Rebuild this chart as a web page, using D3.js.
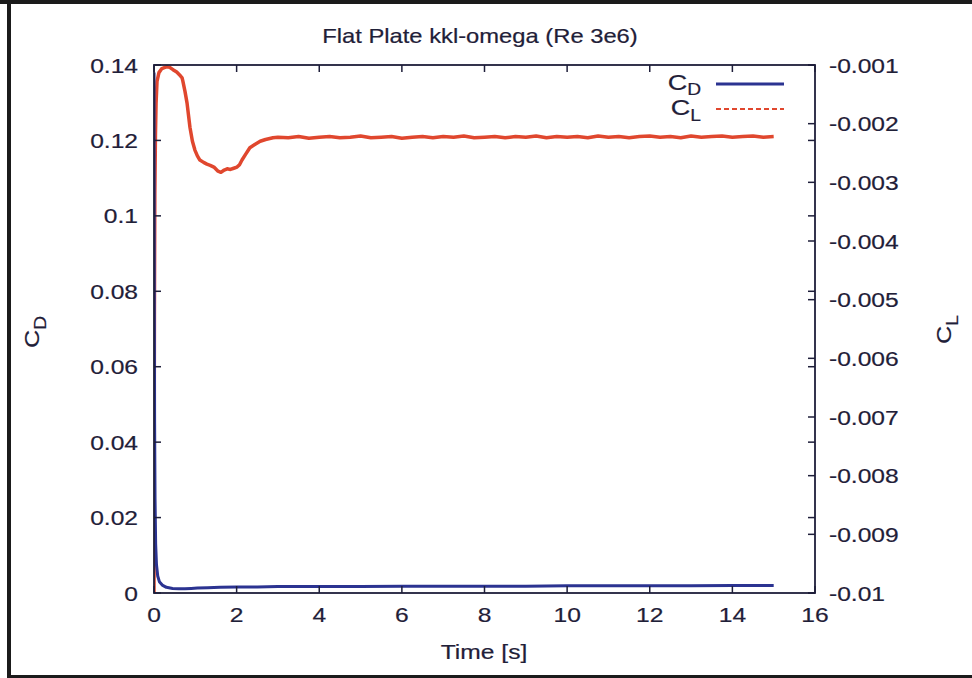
<!DOCTYPE html>
<html>
<head>
<meta charset="utf-8">
<script src="https://cdn.jsdelivr.net/npm/d3@7/dist/d3.min.js"></script>
<style>
  html, body { margin: 0; padding: 0; background: #ffffff; }
  svg { display: block; }
  text { font-family: "Liberation Sans", Arial, Helvetica, sans-serif; fill: #1f2038; stroke: #1f2038; stroke-width: 0.2px; }
</style>
</head>
<body>
<svg id="chart" width="972" height="678"></svg>
<script>
// ---------------- data ----------------
const chartTitle = "Flat Plate kkl-omega (Re 3e6)";
const xTicks = [0, 2, 4, 6, 8, 10, 12, 14, 16];
const yTicksCD = [0, 0.02, 0.04, 0.06, 0.08, 0.1, 0.12, 0.14];
const yTickLabelsCD = ["0", "0.02", "0.04", "0.06", "0.08", "0.1", "0.12", "0.14"];
const yTicksCL = [-0.01, -0.009, -0.008, -0.007, -0.006, -0.005, -0.004, -0.003, -0.002, -0.001];
const yTickLabelsCL = ["-0.01", "-0.009", "-0.008", "-0.007", "-0.006", "-0.005", "-0.004", "-0.003", "-0.002", "-0.001"];

const timeCD = [0, 0.004, 0.008, 0.015, 0.025, 0.04, 0.06, 0.09, 0.13, 0.2, 0.3, 0.45, 0.6, 0.75, 0.9, 1.05, 1.3, 1.6, 2, 2.5, 3, 4, 5, 6, 7, 8, 9, 10, 11, 12, 13, 14, 15];
const dragCoef = [0.138, 0.11, 0.075, 0.045, 0.025, 0.013, 0.0075, 0.0045, 0.003, 0.0021, 0.0015, 0.0012, 0.0011, 0.0011, 0.0012, 0.0013, 0.0014, 0.0015, 0.0016, 0.0016, 0.0017, 0.0017, 0.0017, 0.0018, 0.0018, 0.0018, 0.0018, 0.0019, 0.0019, 0.0019, 0.0019, 0.0020, 0.0020];

const timeCL = [0, 0.005, 0.01, 0.02, 0.035, 0.05, 0.073, 0.12, 0.19, 0.266, 0.315, 0.38, 0.46, 0.55, 0.62, 0.68, 0.70, 0.75, 0.80, 0.87, 0.93, 0.99, 1.05, 1.11, 1.2, 1.28, 1.36, 1.45, 1.55, 1.62, 1.7, 1.77, 1.85, 1.93, 2.01, 2.07, 2.13, 2.22, 2.32, 2.45, 2.57, 2.7, 2.88,
  3.0, 3.25, 3.5, 3.75, 4.0, 4.25, 4.5, 4.75, 5.0, 5.25, 5.5, 5.75, 6.0, 6.25, 6.5, 6.75, 7.0, 7.25, 7.5, 7.75, 8.0, 8.25, 8.5, 8.75, 9.0, 9.25, 9.5, 9.75, 10.0, 10.25, 10.5, 10.75, 11.0, 11.25, 11.5, 11.75, 12.0, 12.25, 12.5, 12.75, 13.0, 13.25, 13.5, 13.75, 14.0, 14.25, 14.5, 14.75, 15.0];
const liftCoef = [-0.0100, -0.0075, -0.0052, -0.0032, -0.0022, -0.00165, -0.00128, -0.00113, -0.00106, -0.00104, -0.00103, -0.00104, -0.00108, -0.00112, -0.00117, -0.00122, -0.00128, -0.00145, -0.00165, -0.00206, -0.00230, -0.00245, -0.00255, -0.00262, -0.00266, -0.00269, -0.00271, -0.00274, -0.00281, -0.00283, -0.00279, -0.00277, -0.00278, -0.00276, -0.00274, -0.00270, -0.00262, -0.00252, -0.00241, -0.00235, -0.00230, -0.00227, -0.00224,
  -0.00223, -0.00224, -0.00222, -0.00225, -0.00223, -0.00222, -0.00224, -0.00223, -0.00221, -0.00224, -0.00223, -0.00222, -0.00225, -0.00223, -0.00222, -0.00224, -0.00222, -0.00223, -0.00221, -0.00224, -0.00223, -0.00222, -0.00224, -0.00222, -0.00223, -0.00221, -0.00224, -0.00222, -0.00223, -0.00222, -0.00224, -0.00221, -0.00223, -0.00222, -0.00224, -0.00222, -0.00221, -0.00223, -0.00222, -0.00224, -0.00221, -0.00223, -0.00222, -0.00221, -0.00223, -0.00222, -0.00221, -0.00223, -0.00222];

// ---------------- layout ----------------
const W = 972, H = 678;
const plot = { left: 154, right: 815, top: 65, bottom: 593 };
const SX = 1.2; // horizontal stretch of the reference's lettering
const inkColor = "#1e1e3a";
const blue = "#2b3391";
const red = "#e0472e";

const svg = d3.select("#chart");

// outer frame (left, top, bottom)
svg.append("rect").attr("x", 0).attr("y", 0).attr("width", W).attr("height", 4).attr("fill", "#1b1b1b");
svg.append("rect").attr("x", 7).attr("y", 0).attr("width", 4).attr("height", H).attr("fill", "#1b1b1b");
svg.append("rect").attr("x", 7).attr("y", 675).attr("width", W).attr("height", 3).attr("fill", "#1b1b1b");

const x = d3.scaleLinear().domain([0, 16]).range([plot.left, plot.right]);
const yL = d3.scaleLinear().domain([0, 0.14]).range([plot.bottom, plot.top]);
const yR = d3.scaleLinear().domain([-0.01, -0.001]).range([plot.bottom, plot.top]);

function stretchedText(g, txt, px, py, opts) {
  const o = Object.assign({ size: 20.5, anchor: "start", rotate: 0 }, opts || {});
  const t = g.append("text")
    .attr("transform", `translate(${px},${py}) rotate(${o.rotate}) scale(${SX},1)`)
    .attr("text-anchor", o.anchor)
    .style("font-size", o.size + "px");
  if (Array.isArray(txt)) {
    txt.forEach(part => {
      const ts = t.append("tspan").text(part.t);
      if (part.size) ts.style("font-size", part.size + "px");
      if (part.dy) ts.attr("dy", part.dy);
    });
  } else {
    t.text(txt);
  }
  return t;
}

// title
stretchedText(svg, chartTitle, 480, 43, { size: 19.8, anchor: "middle" });

// curves
svg.append("defs").append("clipPath").attr("id", "pclip")
  .append("rect").attr("x", plot.left).attr("y", plot.top - 3)
  .attr("width", plot.right - plot.left).attr("height", plot.bottom - plot.top + 3);

const lineCD = d3.line().x(d => x(d[0])).y(d => yL(d[1]));
const lineCL = d3.line().x(d => x(d[0])).y(d => yR(d[1]));

const curves = svg.append("g").attr("clip-path", "url(#pclip)");
curves.append("path")
  .datum(d3.zip(timeCL, liftCoef))
  .attr("d", lineCL).attr("fill", "none").attr("stroke", red)
  .attr("stroke-width", 3.5).attr("stroke-linejoin", "round");
curves.append("path")
  .datum(d3.zip(timeCD, dragCoef))
  .attr("d", lineCD).attr("fill", "none").attr("stroke", blue)
  .attr("stroke-width", 3).attr("stroke-linejoin", "round");

// axes frame
const axes = svg.append("g");
axes.append("rect")
  .attr("x", plot.left).attr("y", plot.top)
  .attr("width", plot.right - plot.left).attr("height", plot.bottom - plot.top)
  .attr("fill", "none").attr("stroke", inkColor).attr("stroke-width", 1.8);

const tickLen = 7;
xTicks.forEach(v => {
  axes.append("line").attr("x1", x(v)).attr("x2", x(v)).attr("y1", plot.bottom).attr("y2", plot.bottom - tickLen)
    .attr("stroke", inkColor).attr("stroke-width", 1.5);
  axes.append("line").attr("x1", x(v)).attr("x2", x(v)).attr("y1", plot.top).attr("y2", plot.top + tickLen)
    .attr("stroke", inkColor).attr("stroke-width", 1.5);
  stretchedText(axes, String(v), x(v), 622, { anchor: "middle" });
});
yTicksCD.forEach((v, i) => {
  axes.append("line").attr("x1", plot.left).attr("x2", plot.left + tickLen).attr("y1", yL(v)).attr("y2", yL(v))
    .attr("stroke", inkColor).attr("stroke-width", 1.5);
  axes.append("line").attr("x1", plot.right).attr("x2", plot.right - tickLen).attr("y1", yL(v)).attr("y2", yL(v))
    .attr("stroke", inkColor).attr("stroke-width", 1.5);
  stretchedText(axes, yTickLabelsCD[i], 138, yL(v) + 7.5, { anchor: "end" });
});
yTicksCL.forEach((v, i) => {
  axes.append("line").attr("x1", plot.right).attr("x2", plot.right - tickLen).attr("y1", yR(v)).attr("y2", yR(v))
    .attr("stroke", inkColor).attr("stroke-width", 1.5);
  stretchedText(axes, yTickLabelsCL[i], 829, yR(v) + 7.5, { anchor: "start" });
});

// axis titles
stretchedText(svg, "Time [s]", 484, 659, { anchor: "middle" });
stretchedText(svg, [{ t: "C" }, { t: "D", size: 16, dy: 7 }], 39, 348, { size: 21, rotate: -90 });
stretchedText(svg, [{ t: "C" }, { t: "L", size: 16, dy: 7 }], 951, 344, { size: 21, rotate: -90 });

// legend
const lg = svg.append("g");
stretchedText(lg, [{ t: "C" }, { t: "D", size: 16, dy: 5 }], 701, 90, { size: 22.5, anchor: "end" });
lg.append("line").attr("x1", 716).attr("x2", 784).attr("y1", 84).attr("y2", 84)
  .attr("stroke", blue).attr("stroke-width", 3);
stretchedText(lg, [{ t: "C" }, { t: "L", size: 16, dy: 6 }], 701, 115, { size: 22.5, anchor: "end" });
lg.append("line").attr("x1", 716).attr("x2", 784).attr("y1", 109).attr("y2", 109)
  .attr("stroke", red).attr("stroke-width", 2).attr("stroke-dasharray", "5,3");
</script>
</body>
</html>
